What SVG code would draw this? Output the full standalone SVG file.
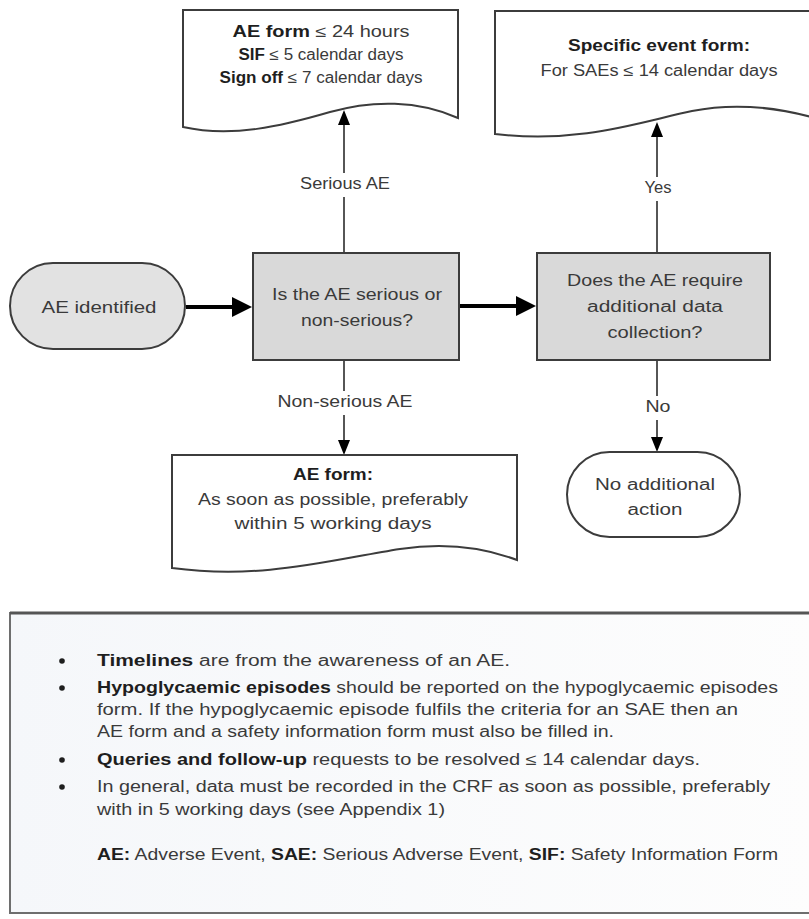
<svg xmlns="http://www.w3.org/2000/svg" width="809" height="919" viewBox="0 0 809 919">
<style>
text{font-family:"Liberation Sans",Arial,sans-serif;fill:#3a3a3a;}
.f{font-size:16px;text-anchor:middle;}
.b{font-weight:bold;fill:#1e1e1e;}
.lg{font-size:16px;}
.doc{fill:#ffffff;stroke:#3c3c3c;stroke-width:2;}
.box{fill:#d9d9d9;stroke:#3c3c3c;stroke-width:2;}
.thin{stroke:#1e1e1e;stroke-width:1.5;fill:none;}
.thick{stroke:#000;stroke-width:4;fill:none;}
.lbl{fill:#ffffff;}
</style>
<defs>
<marker id="ah" markerUnits="userSpaceOnUse" markerWidth="15" markerHeight="12" refX="4" refY="6" orient="auto">
<path d="M0,0 L15,6 L0,12 Z" fill="#000"/>
</marker>
<marker id="ahb" markerUnits="userSpaceOnUse" markerWidth="20" markerHeight="20" refX="8" refY="10" orient="auto">
<path d="M0,0 L20,10 L0,20 Z" fill="#000"/>
</marker>
<linearGradient id="lgbg" x1="0" y1="0" x2="1" y2="0">
<stop offset="0" stop-color="#f5f7fa"/>
<stop offset="1" stop-color="#fdfdfd"/>
</linearGradient>
</defs>

<g id="connectors">
<line class="thick" x1="186" y1="307" x2="240" y2="307" marker-end="url(#ahb)"/>
<line class="thick" x1="460" y1="306" x2="524" y2="306" marker-end="url(#ahb)"/>
<line class="thin" x1="344" y1="253" x2="344" y2="121" marker-end="url(#ah)"/>
<line class="thin" x1="657" y1="253" x2="657" y2="133" marker-end="url(#ah)"/>
<line class="thin" x1="344" y1="361" x2="344" y2="444" marker-end="url(#ah)"/>
<line class="thin" x1="657" y1="361" x2="657" y2="441" marker-end="url(#ah)"/>
<rect class="lbl" x="296" y="173" width="96" height="24"/>
<text class="f" x="345" y="189" textLength="90" lengthAdjust="spacingAndGlyphs">Serious AE</text>
<rect class="lbl" x="641" y="177" width="32" height="24"/>
<text class="f" x="658" y="193" textLength="27" lengthAdjust="spacingAndGlyphs">Yes</text>
<rect class="lbl" x="274" y="391" width="142" height="24"/>
<text class="f" x="345" y="407" textLength="135" lengthAdjust="spacingAndGlyphs">Non-serious AE</text>
<rect class="lbl" x="642" y="396" width="31" height="24"/>
<text class="f" x="658" y="412" textLength="25" lengthAdjust="spacingAndGlyphs">No</text>
</g>

<g id="doc-serious">
<path class="doc" d="M183,10 H458 V118 C418,100 372,100 330,112 C282,126 232,138 183,127 Z"/>
<text class="f" x="321" y="37" textLength="177" lengthAdjust="spacingAndGlyphs"><tspan class="b">AE form</tspan> ≤  24 hours</text>
<text class="f" x="321" y="60" textLength="165" lengthAdjust="spacingAndGlyphs"><tspan class="b">SIF</tspan> ≤ 5 calendar days</text>
<text class="f" x="321" y="83" textLength="203" lengthAdjust="spacingAndGlyphs"><tspan class="b">Sign off</tspan> ≤ 7 calendar days</text>
</g>

<g id="doc-specific">
<path class="doc" d="M495,11 H815 V118 C772,106 732,103 692,111 C640,122 580,144 495,134 Z"/>
<text class="f b" x="659" y="51" textLength="182" lengthAdjust="spacingAndGlyphs">Specific event form:</text>
<text class="f" x="659" y="76" textLength="237" lengthAdjust="spacingAndGlyphs">For SAEs ≤ 14 calendar days</text>
</g>

<g id="ae-identified">
<rect x="10" y="263" width="175" height="86" rx="43" ry="43" fill="#e2e2e2" stroke="#3c3c3c" stroke-width="2"/>
<text class="f" x="99" y="313" textLength="115" lengthAdjust="spacingAndGlyphs">AE identified</text>
</g>

<g id="q-serious">
<rect class="box" x="253" y="253" width="206" height="107"/>
<text class="f" x="357" y="300" textLength="170" lengthAdjust="spacingAndGlyphs">Is the AE serious or</text>
<text class="f" x="357" y="326" textLength="112" lengthAdjust="spacingAndGlyphs">non-serious?</text>
</g>

<g id="q-additional">
<rect class="box" x="537" y="253" width="233" height="107"/>
<text class="f" x="655" y="286" textLength="176" lengthAdjust="spacingAndGlyphs">Does the AE require</text>
<text class="f" x="655" y="312" textLength="136" lengthAdjust="spacingAndGlyphs">additional data</text>
<text class="f" x="655" y="338" textLength="95" lengthAdjust="spacingAndGlyphs">collection?</text>
</g>

<g id="doc-nonserious">
<path class="doc" d="M172,455 H517 V560 C480,546 440,543 400,549 C330,560 262,580 172,568 Z"/>
<text class="f b" x="333" y="480" textLength="80" lengthAdjust="spacingAndGlyphs">AE form:</text>
<text class="f" x="333" y="505" textLength="270" lengthAdjust="spacingAndGlyphs">As soon as possible, preferably</text>
<text class="f" x="333" y="529" textLength="197" lengthAdjust="spacingAndGlyphs">within 5 working days</text>
</g>

<g id="no-action">
<rect x="567" y="452" width="173" height="85" rx="42.5" ry="42.5" fill="#ffffff" stroke="#3c3c3c" stroke-width="2"/>
<text class="f" x="655" y="490" textLength="120" lengthAdjust="spacingAndGlyphs">No additional</text>
<text class="f" x="655" y="515" textLength="55" lengthAdjust="spacingAndGlyphs">action</text>
</g>

<g id="legend">
<rect x="10" y="613" width="806" height="300" fill="url(#lgbg)" stroke="#6e6e6e" stroke-width="2"/>
<line x1="10" y1="613" x2="816" y2="613" stroke="#555" stroke-width="3"/>
<circle cx="62" cy="661" r="2.8" fill="#1e1e1e"/>
<circle cx="62" cy="688" r="2.8" fill="#1e1e1e"/>
<circle cx="62" cy="760" r="2.8" fill="#1e1e1e"/>
<circle cx="62" cy="787" r="2.8" fill="#1e1e1e"/>
<text class="lg" x="97" y="666" textLength="413" lengthAdjust="spacingAndGlyphs"><tspan class="b">Timelines</tspan> are from the awareness of an AE.</text>
<text class="lg" x="97" y="693" textLength="681" lengthAdjust="spacingAndGlyphs"><tspan class="b">Hypoglycaemic episodes</tspan> should be reported on the hypoglycaemic episodes</text>
<text class="lg" x="97" y="715" textLength="641" lengthAdjust="spacingAndGlyphs">form. If the hypoglycaemic episode fulfils the criteria for an SAE then an</text>
<text class="lg" x="97" y="737" textLength="517" lengthAdjust="spacingAndGlyphs">AE form and a safety information form must also be filled in.</text>
<text class="lg" x="97" y="765" textLength="603" lengthAdjust="spacingAndGlyphs"><tspan class="b">Queries and follow-up</tspan> requests to be resolved ≤ 14 calendar days.</text>
<text class="lg" x="97" y="792" textLength="673" lengthAdjust="spacingAndGlyphs">In general, data must be recorded in the CRF as soon as possible, preferably</text>
<text class="lg" x="97" y="815" textLength="348" lengthAdjust="spacingAndGlyphs">with in 5 working days (see Appendix 1)</text>
<text class="lg" x="97" y="860" textLength="681" lengthAdjust="spacingAndGlyphs"><tspan class="b">AE:</tspan> Adverse Event, <tspan class="b">SAE:</tspan> Serious Adverse Event, <tspan class="b">SIF:</tspan> Safety Information Form</text>
</g>
</svg>
